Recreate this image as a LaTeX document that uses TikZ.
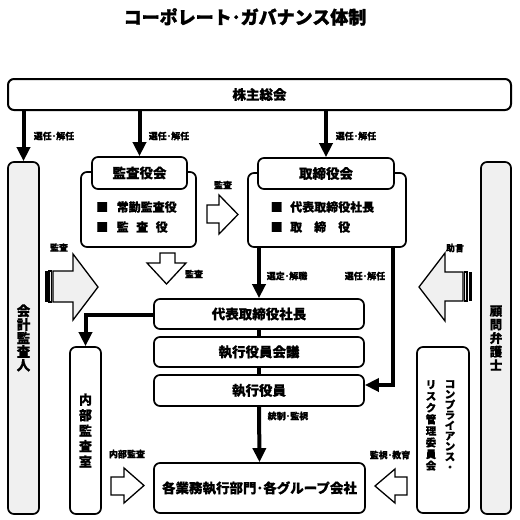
\documentclass[tikz,border=0pt]{standalone}
\usepackage{fontspec}
\setmainfont{Noto Sans CJK JP}[BoldFeatures={FakeBold=0.6}]
\newfontfamily\titlefont{Noto Sans CJK JP}[BoldFeatures={FakeBold=1.6}]
\usetikzlibrary{arrows.meta}
\begin{document}
\begin{tikzpicture}[x=1pt,y=-1pt,
  box/.style={draw, line width=1.7pt, rounded corners=6pt, fill=white, inner sep=0pt},
  graybox/.style={box, fill=gray!12},
  lbl/.style={font=\bfseries\fontsize{9}{10}\selectfont, inner sep=0pt},
  bigt/.style={font=\bfseries\fontsize{13.5}{15}\selectfont},
  itemt/.style={font=\bfseries\fontsize{12}{14}\selectfont, inner sep=0pt, anchor=west},
  conn/.style={line width=4pt},
  conna/.style={conn, -{Triangle[length=14pt,width=13pt]}},
  hollow/.style={draw, line width=1.3pt, fill=white, line join=miter},
  hollowg/.style={hollow, fill=gray!12},
]
\useasboundingbox[fill=white] (0,0) rectangle (520,520);

% title
\node[font=\titlefont\bfseries\fontsize{18}{19}\selectfont] (title) at (245,17) {コーポレート･ガバナンス体制};

% shareholders meeting
\node[box, line width=2pt, minimum width=503pt, minimum height=31pt, bigt] (kabu) at (259.5,94.5) {株主総会};

% side boxes
\node[graybox, minimum width=31pt, minimum height=352pt, align=center, font=\bfseries\fontsize{13.5}{13.6}\selectfont] (kaikei) at (23.5,338) {会\\計\\監\\査\\人};
\node[graybox, minimum width=30pt, minimum height=352pt, align=center, font=\bfseries\fontsize{12.5}{13.6}\selectfont] (komon) at (496,338) {顧\\問\\弁\\護\\士};

% audit board
\node[box, minimum width=115pt, minimum height=75pt] (kansa) at (138.5,209.5) {};
\node[box, minimum width=95pt, minimum height=32pt, bigt] (kansah) at (139.5,173) {監査役会};
\node[itemt] (kansa1) at (96,207) {■\hspace{8.5pt}常勤監査役};
\node[itemt] (kansa2) at (96,227) {■\hspace{8.5pt}監\hspace{7.5pt}査\hspace{7.5pt}役};

% board of directors
\node[box, minimum width=158pt, minimum height=74pt] (tori) at (327,210) {};
\node[box, minimum width=136pt, minimum height=31pt, bigt] (torih) at (326,173.5) {取締役会};
\node[itemt] (tori1) at (270.5,207) {■\hspace{7.5pt}代表取締役社長};
\node[itemt] (tori2) at (270.5,227) {■\hspace{7.5pt}取\hspace{12pt}締\hspace{12pt}役};

% executive stack
\node[box, minimum width=210pt, minimum height=30pt, bigt] (daihyo) at (259,314) {代表取締役社長};
\node[box, minimum width=210pt, minimum height=30pt, bigt] (kaigi) at (259,352) {執行役員会議};
\node[box, minimum width=210pt, minimum height=31pt, bigt] (shikko) at (259,390.5) {執行役員};
\node[box, minimum width=211pt, minimum height=50pt, bigt] (kaku) at (259.5,488) {各業務執行部門･各グループ会社};

% internal audit
\node[box, minimum width=31pt, minimum height=167pt, align=center, font=\bfseries\fontsize{13}{15.5}\selectfont] (naibu) at (85.5,430.5) {内\\部\\監\\査\\室};

% compliance
\node[box, minimum width=52pt, minimum height=166pt] (comp) at (443,430) {};
\node[font=\bfseries\fontsize{10.5}{10.4}\selectfont, align=center, anchor=north, inner sep=0pt] (comp1) at (450,380) {コ\\ン\\プ\\ラ\\イ\\ア\\ン\\ス\\・};
\node[font=\bfseries\fontsize{10.5}{11.6}\selectfont, align=center, anchor=north, inner sep=0pt] (comp2) at (431,380) {リ\\ス\\ク\\管\\理\\委\\員\\会};

% thick connectors
\draw[conna] (kabu.south -| kaikei.north) -- (kaikei.north);
\draw[conna] (kabu.south -| kansah.north) -- (kansah.north);
\draw[conna] (kabu.south -| torih.north) -- (torih.north);
\draw[conna] (tori.south -| daihyo.north) -- (daihyo.north);
\draw[conn] (daihyo.south) -- (kaigi.north);
\draw[conn] (kaigi.south) -- (shikko.north);
\draw[conna] (shikko.south) -- (kaku.north);
\coordinate (c1) at (393,385);
\draw[conna] (tori.south -| c1) -- (c1) -- (shikko.east |- c1);
\coordinate (c2) at (85.5,315);
\draw[conna] (daihyo.west |- c2) -- (c2) -- (naibu.north);

% hollow arrows
\draw[hollow] (207,205) -- (219,205) -- (219,195) -- (238,214.5) -- (219,234) -- (219,223) -- (207,223) -- cycle;
\draw[hollow] (160,253) -- (175,253) -- (175,263) -- (186,263) -- (166.5,284) -- (147,263) -- (160,263) -- cycle;
\draw[hollowg] (53,271) -- (73,271) -- (73,254) -- (98,287) -- (73,320) -- (73,302) -- (53,302) -- cycle;
\fill (45,271) rectangle (47.5,302);
\draw[hollowg] (49,271) rectangle (51.5,302);
\draw[hollowg] (463,272) -- (445,272) -- (445,253) -- (419,287) -- (445,321) -- (445,301) -- (463,301) -- cycle;
\draw[hollowg] (464.5,272) rectangle (467,301);
\fill (468.5,272) rectangle (471.5,301);
\draw[hollow] (111,477) -- (124,477) -- (124,468) -- (144,485.5) -- (124,503) -- (124,495) -- (111,495) -- cycle;
\draw[hollow] (407,477) -- (395,477) -- (395,469) -- (375,486) -- (395,503) -- (395,495) -- (407,495) -- cycle;

% labels
\node[lbl] (l1) at (54,136) {選任･解任};
\node[lbl] (l2) at (169,136) {選任･解任};
\node[lbl] (l3) at (356,136) {選任･解任};
\node[lbl] (l4) at (223,185) {監査};
\node[lbl] (l5) at (194,274) {監査};
\node[lbl] (l6) at (59,247.5) {監査};
\node[lbl] (l7) at (455,248) {助言};
\node[lbl] (l8) at (287,276) {選定･解職};
\node[lbl] (l9) at (365,276) {選任･解任};
\node[lbl] (l10) at (288,416) {統制･監視};
\node[lbl] (l11) at (127,454) {内部監査};
\node[lbl] (l12) at (390,455) {監視･教育};
\end{tikzpicture}
\end{document}
